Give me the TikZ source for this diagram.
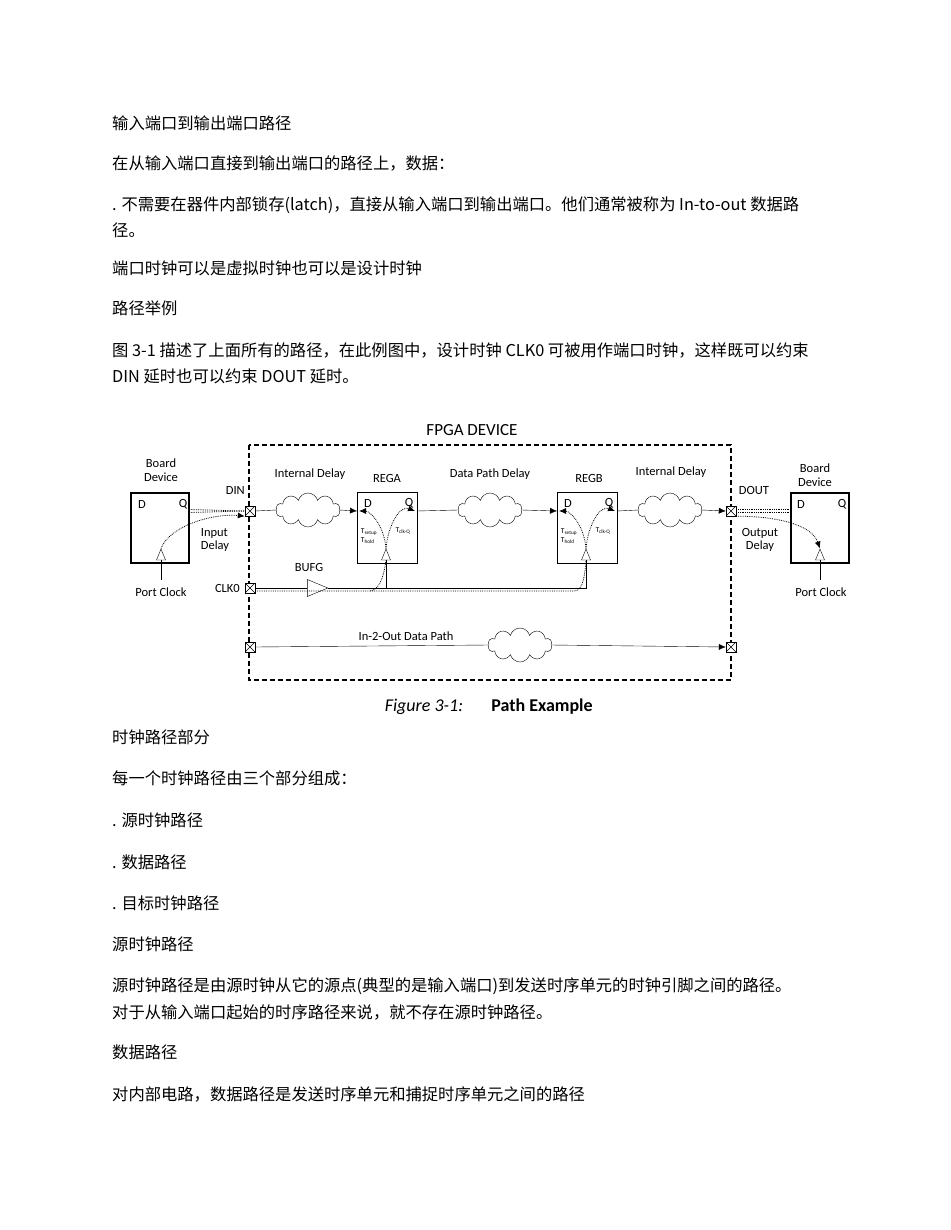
\documentclass[tikz,border=0pt]{standalone}
\usepackage{fontspec}
\setmainfont{Carlito}
\newfontfamily\cjk{Noto Sans CJK SC}
\usetikzlibrary{shapes.symbols,shapes.geometric,arrows.meta}
\begin{document}
\begin{tikzpicture}[x=1pt,y=-1pt,
 body/.style={anchor=west,font=\cjk\fontsize{16.3}{19}\selectfont,inner sep=0},
 lbl/.style={font=\fontsize{12.5}{13.5}\selectfont,align=center,inner sep=0},
 sm/.style={font=\fontsize{7.5}{8.5}\selectfont,inner sep=0,align=left},
 cl/.style={cloud,cloud puffs=10,aspect=2,draw,minimum width=64,minimum height=34,inner sep=0},
 reg/.style={draw,minimum width=60,minimum height=71,inner sep=0},
 brd/.style={draw,line width=1.3pt,minimum width=58,minimum height=70,inner sep=0},
 port/.style={draw,minimum size=10,inner sep=0,fill=white,path picture={\draw (path picture bounding box.south west)--(path picture bounding box.north east) (path picture bounding box.north west)--(path picture bounding box.south east);}},
 arr/.style={-{Latex[length=7,width=6]}},
 dot/.style={densely dotted,line width=0.8pt},
 clktri/.style={draw,isosceles triangle,shape border rotate=90,minimum width=9,minimum height=11,inner sep=0}]
\useasboundingbox (0,0) rectangle (950,1230);
\fill[white] (0,0) rectangle (950,1230);
% text
\node[body] (t1) at (112,123) {输入端口到输出端口路径};
\node[body] (t2) at (112,163) {在从输入端口直接到输出端口的路径上，数据：};
\node[body] (t3) at (112,205) {. 不需要在器件内部锁存(latch)，直接从输入端口到输出端口。他们通常被称为 In-to-out 数据路};
\node[body] (t4) at (112,230) {径。};
\node[body] (t5) at (112,268) {端口时钟可以是虚拟时钟也可以是设计时钟};
\node[body] (t6) at (112,308) {路径举例};
\node[body] (t7) at (112,350) {图 3-1 描述了上面所有的路径，在此例图中，设计时钟 CLK0 可被用作端口时钟，这样既可以约束};
\node[body] (t8) at (112,376) {DIN 延时也可以约束 DOUT 延时。};
\node[body] (t9) at (112,737) {时钟路径部分};
\node[body] (t10) at (112,778) {每一个时钟路径由三个部分组成：};
\node[body] (t11) at (112,820) {. 源时钟路径};
\node[body] (t12) at (112,862) {. 数据路径};
\node[body] (t13) at (112,903) {. 目标时钟路径};
\node[body] (t14) at (112,944) {源时钟路径};
\node[body] (t15) at (112,986) {源时钟路径是由源时钟从它的源点(典型的是输入端口)到发送时序单元的时钟引脚之间的路径。};
\node[body] (t16) at (112,1012) {对于从输入端口起始的时序路径来说，就不存在源时钟路径。};
\node[body] (t17) at (112,1052) {数据路径};
\node[body] (t18) at (112,1094) {对内部电路，数据路径是发送时序单元和捕捉时序单元之间的路径};
% FPGA box
\node[font=\fontsize{17}{19}\selectfont] (title) at (472,430) {FPGA DEVICE};
\draw[line width=1.4pt,dash pattern=on 5pt off 3pt] (249,445) rectangle (731,680);
% left board
\node[brd] (bl) at (160,528) {};
\node[lbl] at (161,470) {Board\\Device};
\node[lbl] at (142,504) {D};
\node[lbl] at (183,504) {Q};
\node[clktri] (blc) at (161,557) {};
\draw[line width=1pt] (blc.south) -- (161,580);
\node[lbl] (pc1) at (161,592) {Port Clock};
% ports
\node[port] (din) at (250,511) {};
\node[lbl,anchor=east] at (245,490) {DIN};
\node[port] (clk) at (250,588) {};
\node[lbl,anchor=east] at (240,588) {CLK0};
\node[port] (dout) at (731,511) {};
\node[lbl] at (754,490) {DOUT};
\node[port] (pi) at (250,647) {};
\node[port] (po) at (731,647) {};
% left connections
\draw[dot] (189,509.5) -- (din.west);
\draw[dot] (189,512.5) -- (din.west);
\draw[dot,arr] (blc.north) .. controls (170,525) and (215,513) .. (din.south west);
\node[lbl,align=left] at (215,540) {Input\\Delay};
% clouds
\node[cl] (c1) at (308,510) {};
\node[lbl] at (310,474) {Internal Delay};
\node[cl] (c2) at (490,510) {};
\node[lbl] at (490,474) {Data Path Delay};
\node[cl] (c3) at (670,510) {};
\node[lbl] at (671,472) {Internal Delay};
\node[cl] (c4) at (520,645) {};
\node[lbl] at (406,636) {In-2-Out Data Path};
% registers
\node[reg] (ra) at (387,528) {};
\node[lbl] at (387,478) {REGA};
\node[lbl] at (368,503) {D};
\node[lbl] at (409,503) {Q};
\node[sm] at (369,536) {T\textsubscript{setup}\\T\textsubscript{hold}};
\node[sm] at (403,531) {T\textsubscript{clk-Q}};
\node[clktri] (rac) at (386,557) {};
\node[reg] (rb) at (587,528) {};
\node[lbl] at (589,478) {REGB};
\node[lbl] at (568,503) {D};
\node[lbl] at (609,503) {Q};
\node[sm] at (569,536) {T\textsubscript{setup}\\T\textsubscript{hold}};
\node[sm] at (603,531) {T\textsubscript{clk-Q}};
\node[clktri] (rbc) at (586,557) {};
% data path
\draw (din.east) -- (c1.west);
\draw[arr] (c1.east) -- (357,511);
\draw (417,511) -- (c2.west);
\draw[arr] (c2.east) -- (557,511);
\draw (617,511) -- (c3.west);
\draw[arr] (c3.east) -- (dout.west);
\draw (pi.east) -- (c4.west);
\draw[arr] (c4.east) -- (po.west);
% dotted arcs inside regs
\draw[dot,arr] (rac.north) .. controls (384,525) and (370,511) .. (359,511);
\draw[dot,arr] (rac.north) .. controls (388,525) and (400,505) .. (415,511);
\draw[dot,arr] (rbc.north) .. controls (584,525) and (570,511) .. (559,511);
\draw[dot,arr] (rbc.north) .. controls (588,525) and (600,505) .. (615,511);
% clock tree
\node[draw,isosceles triangle,minimum width=17,minimum height=19,inner sep=0] (bufg) at (313,588) {};
\node[lbl] at (309,567) {BUFG};
\draw (clk.east) -- (bufg.west);
\draw (bufg.east) -- (586,588) -- (rbc.south);
\draw (386,588) -- (rac.south);
\draw[dot] (clk.east) ++(0,3) -- (575,591) .. controls (583,590) and (585,575) .. (rbc.south);
\draw[dot] (370,591) .. controls (380,590) and (384,575) .. (rac.south);
% right board
\node[brd] (br) at (820,528) {};
\node[lbl] at (815,475) {Board\\Device};
\node[lbl] at (801,504) {D};
\node[lbl] at (842,504) {Q};
\node[clktri] (brc) at (820,557) {};
\draw[line width=1pt] (brc.south) -- (820,580);
\node[lbl] (pc2) at (821,592) {Port Clock};
\draw[dot] (dout.east) ++(0,-1.5) -- (790,509.5);
\draw[dot] (dout.east) ++(0,1.5) -- (790,512.5);
\draw[dot,arr] (dout.south east) .. controls (760,516) and (810,520) .. (brc.north);
\node[lbl,align=center] at (760,540) {Output\\Delay};
% caption
\node[font=\itshape\fontsize{18}{20}\selectfont] (cap1) at (424,707) {Figure 3-1:};
\node[font=\bfseries\fontsize{18}{20}\selectfont] (cap2) at (542,707) {Path Example};
\end{tikzpicture}
\end{document}
